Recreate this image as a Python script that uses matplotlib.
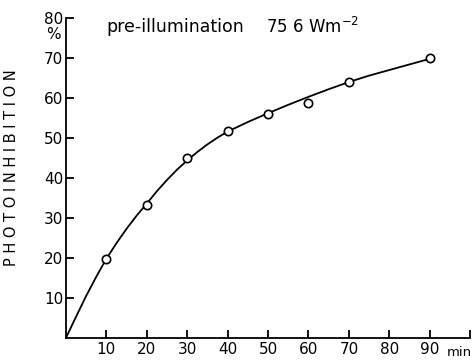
import matplotlib
matplotlib.use("Agg")
import matplotlib.pyplot as plt

# measured points (min, % photoinhibition)
time_min = [10, 20, 30, 40, 50, 60, 70, 90]
inhibition = [19.7, 33.2, 45.1, 51.8, 56.1, 58.8, 64.1, 69.9]

# fitted curve
curve_t = [0, 2.5, 5, 7.5, 10, 12.5, 15, 17.5, 20, 22.5, 25, 27.5, 30, 32.5, 35, 37.5,
           40, 45, 50, 55, 60, 65, 70, 75, 80, 85, 90]
curve_y = [0, 5.3, 10.5, 15.3, 19.8, 23.7, 27.3, 30.6, 33.6, 36.7, 39.5, 42.1, 44.4,
           46.5, 48.4, 50.1, 51.6, 54.0, 56.2, 58.3, 60.3, 62.2, 64.0, 65.6, 67.0,
           68.4, 69.8]

xticks = [10, 20, 30, 40, 50, 60, 70, 80, 90, 100]
xtick_labels = ["10", "20", "30", "40", "50", "60", "70", "80", "90", ""]
yticks = [10, 20, 30, 40, 50, 60, 70, 80]
ytick_labels = ["10", "20", "30", "40", "50", "60", "70", "80"]

plt.rcParams["font.family"] = "DejaVu Sans"

fig = plt.figure(figsize=(4.74, 3.6), dpi=100)
ax = fig.add_axes([0.139, 0.061, 0.853, 0.889])

ax.plot(curve_t, curve_y, color="black", lw=1.3, zorder=2)
ax.plot(time_min, inhibition, "o", ms=6, mfc="white", mec="black", mew=1.2, zorder=3)

ax.set_xlim(0, 100)
ax.set_ylim(0, 80)
ax.spines["top"].set_visible(False)
ax.spines["right"].set_visible(False)
for s in ("left", "bottom"):
    ax.spines[s].set_linewidth(1.3)

ax.set_xticks(xticks)
ax.set_xticklabels(xtick_labels, fontsize=11)
ax.set_yticks(yticks)
ax.set_yticklabels(ytick_labels, fontsize=11)
ax.tick_params(direction="in", length=6, width=1.3, pad=3)
ax.tick_params(axis="y", pad=2)

ax.text(-1.3, 75.8, "%", fontsize=11, ha="right", va="center")
ax.text(97.2, -3.6, "min", fontsize=9.5, ha="center", va="center")
ax.text(10, 77.7, "pre-illumination", fontsize=12.5, ha="left", va="center")
ax.text(49.6, 77.7, "75 6 Wm$^{-2}$", fontsize=12, ha="left", va="center")

ax.text(-13.4, 42.7, "P H O T O I N H I B I T I O N", fontsize=10.5, rotation=90,
        ha="center", va="center")

fig.savefig("out.png", dpi=100)
